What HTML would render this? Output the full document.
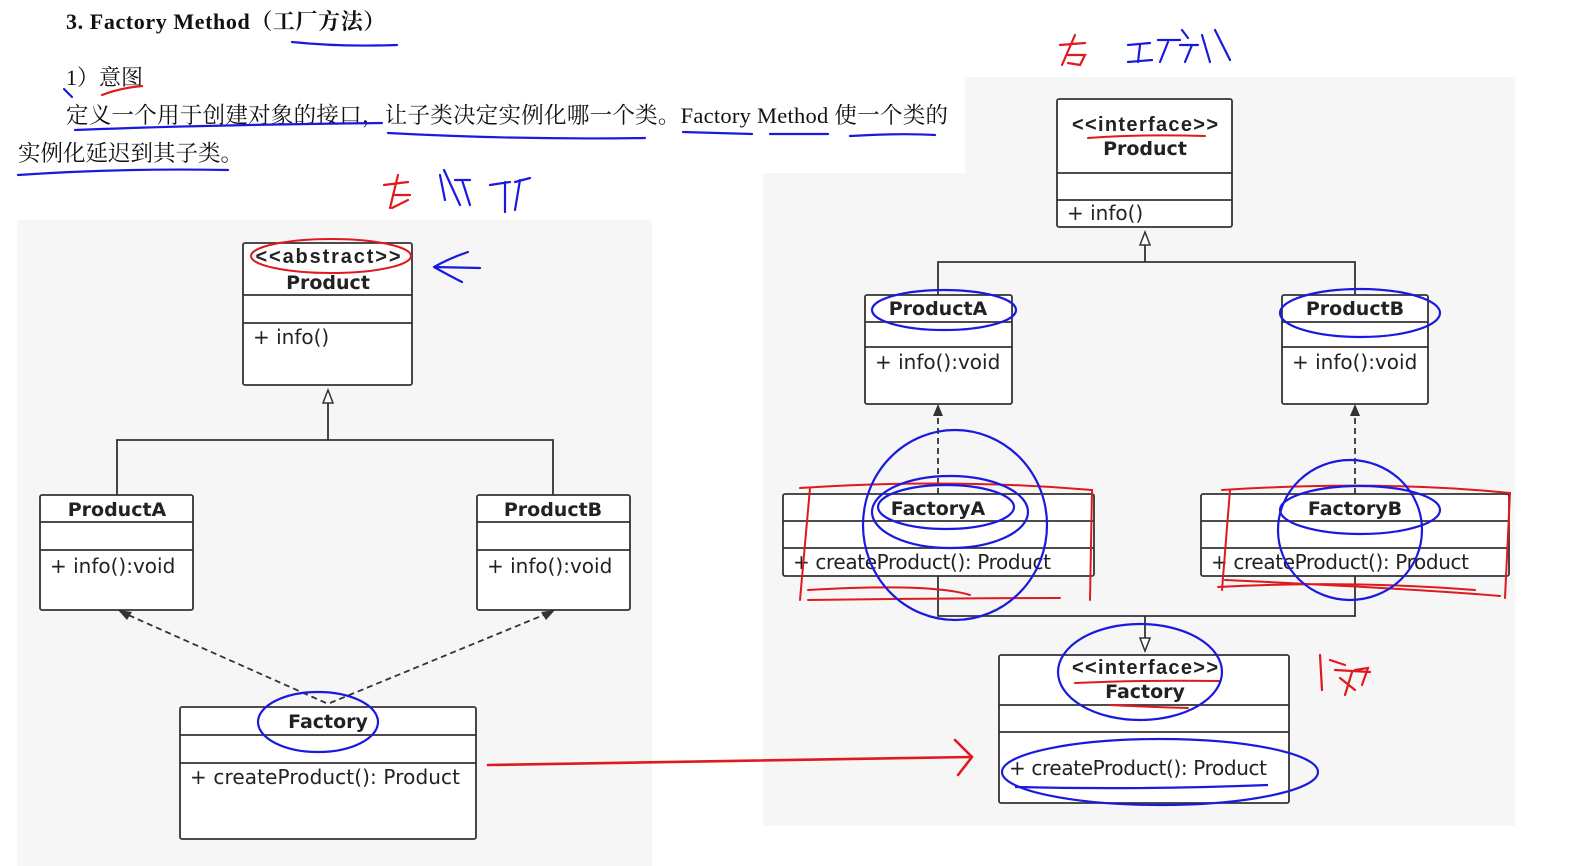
<!DOCTYPE html>
<html><head><meta charset="utf-8"><style>
html,body{margin:0;padding:0;background:#fff;}
svg{display:block}
.t{font-family:"Liberation Serif","Noto Serif CJK SC",serif;fill:#111}
.b{font-family:"DejaVu Sans","Liberation Sans","Noto Sans CJK SC",sans-serif;fill:#222}
.s{font-family:"Liberation Sans",sans-serif;fill:#222}
</style></head><body>
<svg width="1581" height="866" viewBox="0 0 1581 866" xmlns="http://www.w3.org/2000/svg">
<rect x="17" y="220" width="635" height="646" fill="#f6f6f6"/>
<path d="M763,173 L965,173 L965,77 L1515,77 L1515,826 L763,826 Z" fill="#f6f6f6"/>
<text x="66" y="29" class="t" font-size="22" font-weight="bold" letter-spacing="0.6">3.  Factory Method（工厂方法）</text>
<text x="66" y="85" class="t" font-size="22">1）意图</text>
<text x="66" y="123" class="t" font-size="22.5" textLength="882" lengthAdjust="spacing">定义一个用于创建对象的接口，让子类决定实例化哪一个类。Factory  Method 使一个类的</text>
<text x="18" y="161" class="t" font-size="22.5">实例化延迟到其子类。</text>
<g fill="none" stroke="#1a1adf" stroke-width="2.2" stroke-linecap="round">
<path d="M292,42 Q340,47 397,45"/>
<path d="M64,89 L72,97"/>
<path d="M75,130 Q200,125 382,123"/><path d="M388,133 Q520,140 645,138"/>
<path d="M683,132 L752,134"/><path d="M770,134 L828,134"/><path d="M850,136 Q900,133 935,135"/>
<path d="M18,175 Q120,168 228,170"/>
<path d="M440,175 L445,200 M444,170 L460,205 M455,180 L470,180 M462,180 L470,205 M490,185 L510,182 M505,182 L505,212 M515,182 L530,178 M520,180 L515,210"/>
<path d="M1128,45 L1150,43 M1140,45 L1138,62 M1128,62 L1152,60 M1158,40 L1180,40 M1168,42 L1160,62 M1182,30 L1188,38 M1180,45 L1198,45 M1192,45 L1185,62 M1202,35 L1210,62 M1215,30 L1230,60"/>
<path d="M434,267 Q450,258 468,252 M434,267 L480,268 M434,267 Q450,276 462,282"/>
</g>
<g fill="none" stroke="#e0191e" stroke-width="2.2" stroke-linecap="round">
<path d="M102,95 Q120,88 142,86"/>
<path d="M384,185 L408,182 M398,175 L390,208 M392,208 L408,200 M395,195 L410,195"/>
<path d="M1060,45 L1085,43 M1075,35 L1062,65 M1068,55 L1085,55 L1080,65 L1068,63"/>
<path d="M1320,655 L1322,690 M1330,660 L1345,665 M1335,670 L1370,672 M1340,678 L1355,690 M1352,672 L1345,695 M1355,670 L1368,668 L1362,685"/>
</g>
<g stroke="#333" stroke-width="1.8" fill="#fff">
<rect x="243" y="243" width="169" height="142" rx="2"/>
<line x1="243" y1="295" x2="412" y2="295"/><line x1="243" y1="323" x2="412" y2="323"/>
<rect x="40" y="495" width="153" height="115" rx="2"/>
<line x1="40" y1="522" x2="193" y2="522"/><line x1="40" y1="550" x2="193" y2="550"/>
<rect x="477" y="495" width="153" height="115" rx="2"/>
<line x1="477" y1="522" x2="630" y2="522"/><line x1="477" y1="550" x2="630" y2="550"/>
<rect x="180" y="707" width="296" height="132" rx="2"/>
<line x1="180" y1="735" x2="476" y2="735"/><line x1="180" y1="763" x2="476" y2="763"/>
</g>
<g stroke="#333" stroke-width="1.8" fill="none">
<path d="M117,495 L117,440 L553,440 L553,495"/>
<path d="M328,440 L328,403"/>
<path d="M326,703 L126,614 M330,703 L546,614" stroke-dasharray="6,4"/>
</g>
<path d="M328,390 L323,403 L333,403 Z" fill="#fff" stroke="#333" stroke-width="1.5"/>
<path d="M118,610 L132,612 L127,620 Z M555,610 L541,612 L546,620 Z" fill="#333"/>
<g class="s" font-size="20" text-anchor="middle" font-weight="bold">
<text x="328" y="263" textLength="145" lengthAdjust="spacing">&lt;&lt;abstract&gt;&gt;</text>
<text x="1145" y="131" textLength="146" lengthAdjust="spacing">&lt;&lt;interface&gt;&gt;</text>
<text x="1145" y="674" textLength="146" lengthAdjust="spacing">&lt;&lt;interface&gt;&gt;</text>
</g>
<g class="b" font-size="19" text-anchor="middle" font-weight="bold">
<text x="328" y="289">Product</text>
<text x="117" y="516">ProductA</text>
<text x="553" y="516">ProductB</text>
<text x="328" y="728">Factory</text>
<text x="1145" y="155">Product</text>
<text x="938" y="315">ProductA</text>
<text x="1355" y="315">ProductB</text>
<text x="938" y="515">FactoryA</text>
<text x="1355" y="515">FactoryB</text>
<text x="1145" y="698">Factory</text>
</g>
<g class="b" font-size="20">
<text x="253" y="344">+ info()</text>
<text x="50" y="573">+ info():void</text>
<text x="487" y="573">+ info():void</text>
<text x="190" y="784" textLength="270" lengthAdjust="spacing">+ createProduct():  Product</text>
</g>
<g stroke="#333" stroke-width="1.8" fill="#fff">
<rect x="1057" y="99" width="175" height="128" rx="2"/>
<line x1="1057" y1="173" x2="1232" y2="173"/><line x1="1057" y1="200" x2="1232" y2="200"/>
<rect x="865" y="295" width="147" height="109" rx="2"/>
<line x1="865" y1="322" x2="1012" y2="322"/><line x1="865" y1="347" x2="1012" y2="347"/>
<rect x="1282" y="295" width="146" height="109" rx="2"/>
<line x1="1282" y1="322" x2="1428" y2="322"/><line x1="1282" y1="347" x2="1428" y2="347"/>
<rect x="783" y="494" width="311" height="82" rx="2"/>
<line x1="783" y1="521" x2="1094" y2="521"/><line x1="783" y1="548" x2="1094" y2="548"/>
<rect x="1201" y="494" width="308" height="82" rx="2"/>
<line x1="1201" y1="521" x2="1509" y2="521"/><line x1="1201" y1="548" x2="1509" y2="548"/>
<rect x="999" y="655" width="290" height="148" rx="2"/>
<line x1="999" y1="705" x2="1289" y2="705"/><line x1="999" y1="732" x2="1289" y2="732"/>
</g>
<g stroke="#333" stroke-width="1.8" fill="none">
<path d="M938,295 L938,262 L1355,262 L1355,295"/>
<path d="M1145,262 L1145,245"/>
<path d="M938,576 L938,616 L1355,616 L1355,576"/>
<path d="M1145,616 L1145,638"/>
<path d="M938,494 L938,414 M1355,494 L1355,414" stroke-dasharray="6,4"/>
</g>
<path d="M1145,232 L1140,245 L1150,245 Z M1145,651 L1140,638 L1150,638 Z" fill="#fff" stroke="#333" stroke-width="1.5"/>
<path d="M938,404 L933,416 L943,416 Z M1355,404 L1350,416 L1360,416 Z" fill="#333"/>
<!-- redraw stereotype + names on top of right boxes -->
<g class="s" font-size="20" text-anchor="middle" font-weight="bold">
<text x="1145" y="131" textLength="146" lengthAdjust="spacing">&lt;&lt;interface&gt;&gt;</text>
<text x="1145" y="674" textLength="146" lengthAdjust="spacing">&lt;&lt;interface&gt;&gt;</text>
</g>
<g class="b" font-size="19" text-anchor="middle" font-weight="bold">
<text x="1145" y="155">Product</text>
<text x="938" y="315">ProductA</text>
<text x="1355" y="315">ProductB</text>
<text x="938" y="515">FactoryA</text>
<text x="1355" y="515">FactoryB</text>
<text x="1145" y="698">Factory</text>
</g>
<g class="b" font-size="20">
<text x="1067" y="220">+ info()</text>
<text x="875" y="369">+ info():void</text>
<text x="1292" y="369">+ info():void</text>
<text x="793" y="569" textLength="258" lengthAdjust="spacing">+ createProduct():  Product</text>
<text x="1211" y="569" textLength="258" lengthAdjust="spacing">+ createProduct():  Product</text>
<text x="1009" y="775" textLength="258" lengthAdjust="spacing">+ createProduct():  Product</text>
</g>
<g fill="none" stroke="#e0191e" stroke-width="2" stroke-linecap="round">
<ellipse cx="331" cy="256" rx="80" ry="17"/>
<path d="M1088,138 Q1140,134 1205,136"/>
<path d="M1075,683 Q1140,680 1220,681"/><path d="M1110,705 Q1150,707 1188,708"/>
<path d="M488,765 L970,757 M955,740 L972,757 L958,775" stroke-width="2.6"/>
<path d="M800,488 Q950,478 1092,490 L1090,600 M810,488 L800,600 M808,590 Q930,583 970,595 M808,600 Q950,598 1060,598"/>
<path d="M1222,490 Q1380,480 1510,493 L1505,598 M1230,490 L1222,590 M1218,587 Q1350,580 1475,590 M1225,580 Q1400,588 1500,596"/>
</g>
<g fill="none" stroke="#1a1adf" stroke-width="2.2">
<ellipse cx="944" cy="310" rx="72" ry="20"/>
<ellipse cx="1360" cy="313" rx="80" ry="24"/>
<ellipse cx="318" cy="722" rx="60" ry="30"/>
<ellipse cx="946" cy="507" rx="68" ry="22"/>
<ellipse cx="950" cy="512" rx="78" ry="36"/>
<ellipse cx="955" cy="525" rx="92" ry="95"/>
<ellipse cx="1360" cy="510" rx="80" ry="24"/>
<ellipse cx="1350" cy="530" rx="72" ry="70"/>
<ellipse cx="1140" cy="672" rx="82" ry="48"/>
<ellipse cx="1160" cy="772" rx="158" ry="33"/>
<path d="M1015,787 Q1140,790 1268,785"/>
</g>
</svg>
</body></html>
